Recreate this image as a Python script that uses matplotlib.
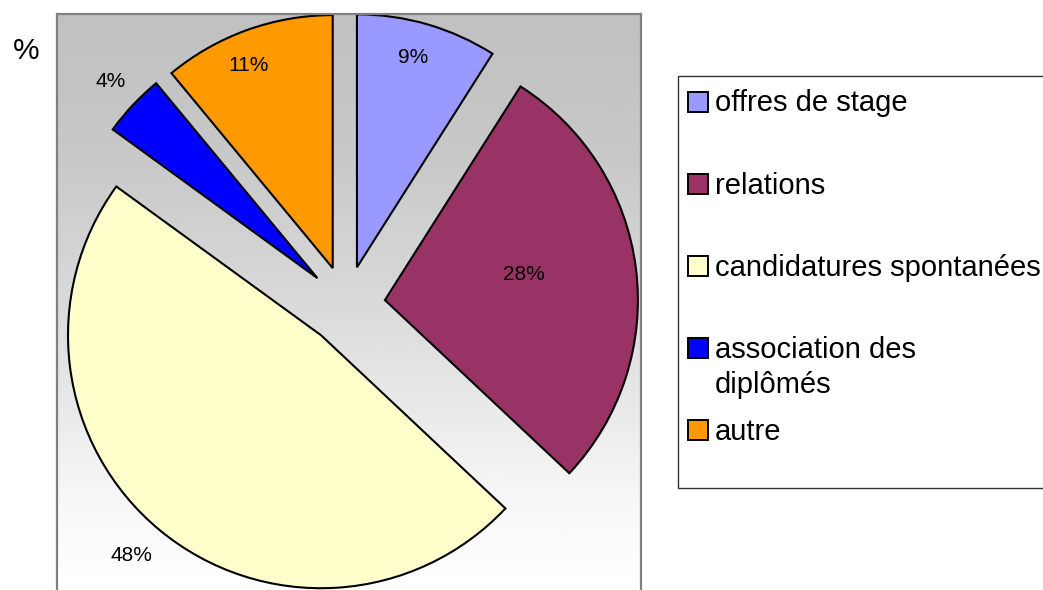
import numpy as np
import matplotlib
matplotlib.use("Agg")
import matplotlib.pyplot as plt
from matplotlib.patches import Rectangle

plt.rcParams['font.family'] = ['Liberation Sans', 'DejaVu Sans']

# ---- data ----
categories = ["offres de stage", "relations", "candidatures spontanées",
              "association des\ndiplômés", "autre"]
values = [9, 28, 48, 4, 11]
pct_labels = [f"{v}%" for v in values]
colors = ["#9999FF", "#993366", "#FFFFCC", "#0000FF", "#FF9900"]

# ---- layout / style ----
W, H = 1043, 590
fig = plt.figure(figsize=(W / 100, H / 100), dpi=100)

# plot area in pixels
pa_left, pa_right, pa_top, pa_bottom = 57, 641, 14, 590
cx, cy, R = 346, 305, 253   # pie centre & radius (pixels)

ax = fig.add_axes([pa_left / W, (H - pa_bottom) / H,
                   (pa_right - pa_left) / W, (pa_bottom - pa_top) / H])
xlim = ((pa_left - cx) / R, (pa_right - cx) / R)
ylim = ((cy - pa_bottom) / R, (cy - pa_top) / R)

# gradient background
ys = np.linspace(0, 1, 300)  # 0 = top, 1 = bottom
stops_y = [0.0, 0.25, 0.51, 0.86, 1.0]
stops_v = [192, 200, 218, 248, 255]
vals = np.interp(ys, stops_y, stops_v) / 255.0
grad = np.repeat(vals[:, None], 2, axis=1)
ax.imshow(grad, cmap="gray", vmin=0, vmax=1, aspect="auto",
          extent=[xlim[0], xlim[1], ylim[0], ylim[1]], zorder=0,
          interpolation="bilinear")

explode = [0.155] * len(values)
wedges, _ = ax.pie(values, colors=colors, explode=explode, startangle=90,
                   counterclock=False, radius=1.0,
                   wedgeprops=dict(edgecolor="black", linewidth=1.5))
for w in wedges:
    w.set_zorder(2)

# percentage labels (radial distance, angular offset in degrees)
label_dist = [0.859, 0.560, 1.146, 1.128, 0.866]
label_dang = [1.2, 3.0, -1.1, -0.3, 2.9]
for w, txt, d, da in zip(wedges, pct_labels, label_dist, label_dang):
    ang = np.deg2rad((w.theta1 + w.theta2) / 2 + da)
    x = w.center[0] + d * np.cos(ang)
    y = w.center[1] + d * np.sin(ang)
    ax.text(x, y, txt, ha="center", va="center", fontsize=15,
            color="black", zorder=3)

ax.set_xlim(*xlim)
ax.set_ylim(*ylim)
ax.set_aspect("auto")
ax.set_frame_on(True)
ax.set_xticks([])
ax.set_yticks([])
for side in ["left", "right", "top"]:
    ax.spines[side].set_visible(True)
    ax.spines[side].set_color("#808080")
    ax.spines[side].set_linewidth(1.6)
ax.spines["bottom"].set_visible(False)

# overlay axes in pixel coords for legend and "%" mark
ov = fig.add_axes([0, 0, 1, 1])
ov.set_xlim(0, W)
ov.set_ylim(H, 0)
ov.axis("off")
ov.patch.set_alpha(0)

ov.text(26, 51, "%", fontsize=21.5, ha="center", va="center")

# legend box
lg_left, lg_top, lg_bottom = 678, 76, 488
ov.add_patch(Rectangle((lg_left, lg_top), W + 10 - lg_left, lg_bottom - lg_top,
                       facecolor="white", edgecolor="#333333", linewidth=1.0))
row_y = [101.5, 184, 266, 348, 430]
for w, lab, y in zip(wedges, categories, row_y):
    ov.add_patch(Rectangle((688, y - 10), 20, 20, facecolor=w.get_facecolor(),
                           edgecolor="black", linewidth=1.4))
    ov.text(715, y - 12.5, lab, fontsize=21, ha="left", va="top",
            linespacing=1.32)

fig.savefig("out.png", dpi=100)
